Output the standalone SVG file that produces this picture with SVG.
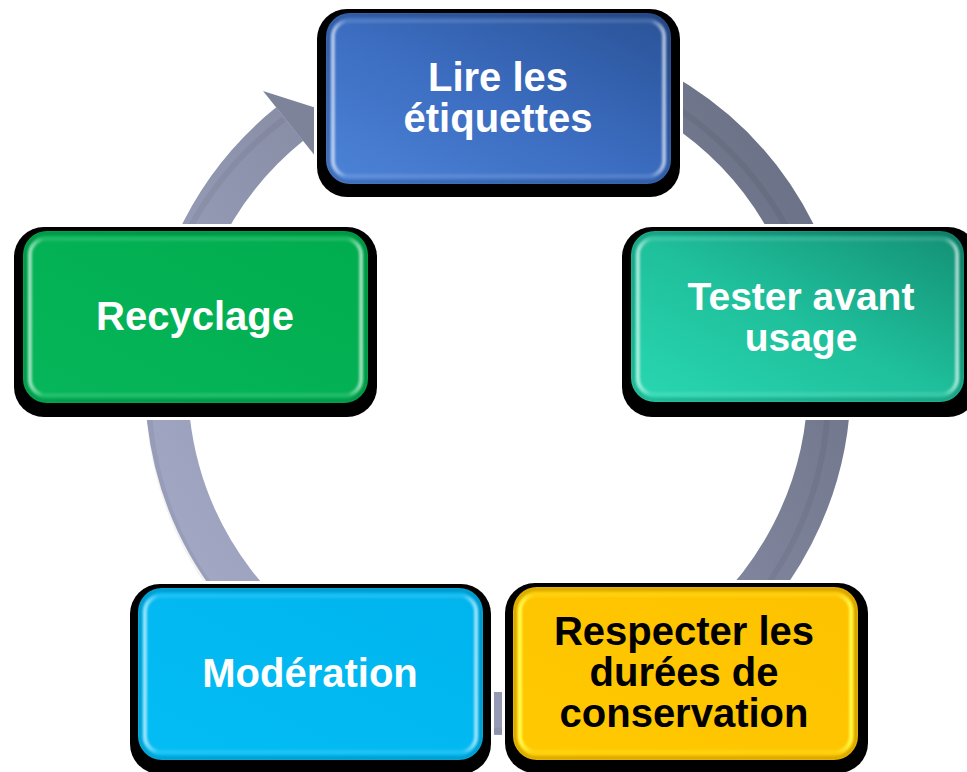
<svg xmlns="http://www.w3.org/2000/svg" width="967" height="772" viewBox="0 0 967 772">
<defs>
  <linearGradient id="ringGrad" gradientUnits="userSpaceOnUse" x1="150" y1="600" x2="850" y2="150">
    <stop offset="0" stop-color="#a6abc9"/>
    <stop offset="0.45" stop-color="#8a8fa8"/>
    <stop offset="1" stop-color="#676d81"/>
  </linearGradient>
  <linearGradient id="gBlue" x1="0" y1="1" x2="1" y2="0">
    <stop offset="0" stop-color="#4d84d8"/>
    <stop offset="0.5" stop-color="#3b6cbf"/>
    <stop offset="1" stop-color="#2a5296"/>
  </linearGradient>
  <linearGradient id="gTeal" x1="0" y1="1" x2="1" y2="0">
    <stop offset="0" stop-color="#28d8b1"/>
    <stop offset="0.5" stop-color="#1fbf9b"/>
    <stop offset="1" stop-color="#138f74"/>
  </linearGradient>
  <linearGradient id="gGreen" x1="0" y1="1" x2="1" y2="0">
    <stop offset="0" stop-color="#06b65a"/>
    <stop offset="1" stop-color="#00ad4e"/>
  </linearGradient>
  <linearGradient id="gCyan" x1="0" y1="1" x2="1" y2="0">
    <stop offset="0" stop-color="#04bdf5"/>
    <stop offset="1" stop-color="#00b4ee"/>
  </linearGradient>
  <linearGradient id="gGold" x1="0" y1="1" x2="1" y2="0">
    <stop offset="0" stop-color="#ffc900"/>
    <stop offset="1" stop-color="#fdc200"/>
  </linearGradient>
  <linearGradient id="gBevel" x1="0" y1="0" x2="1" y2="0">
    <stop offset="0" stop-color="#ffffff" stop-opacity="0.6"/>
    <stop offset="0.04" stop-color="#ffffff" stop-opacity="0.12"/>
    <stop offset="0.96" stop-color="#ffffff" stop-opacity="0.12"/>
    <stop offset="1" stop-color="#ffffff" stop-opacity="0.6"/>
  </linearGradient>
  <linearGradient id="gBevelGold" x1="0" y1="0" x2="1" y2="0">
    <stop offset="0" stop-color="#ffff50" stop-opacity="0.95"/>
    <stop offset="0.04" stop-color="#ffff50" stop-opacity="0.2"/>
    <stop offset="0.96" stop-color="#ffff50" stop-opacity="0.2"/>
    <stop offset="1" stop-color="#ffff50" stop-opacity="0.9"/>
  </linearGradient>
  <filter id="soft" x="-5%" y="-5%" width="110%" height="110%">
    <feGaussianBlur stdDeviation="1.2"/>
  </filter>
</defs>
<style>
  .halo { fill: #ffffff; }
  .shadow { fill: #000000; }
  .bevel { fill: none; stroke: url(#gBevel); stroke-width: 4; filter: url(#soft); }
  .edge { fill: none; stroke: #000000; stroke-opacity: 0.15; stroke-width: 4; filter: url(#soft); }
  .lbl { font-family: "Liberation Sans", Arial, sans-serif; font-weight: bold; font-size: 40px; text-anchor: middle; fill: #ffffff; }
  .dark { fill: #000000; }
</style>
<rect width="967" height="772" fill="#ffffff"/>
<g id="connectors">
  <path d="M 357.9 81.6 A 331.5 331.5 0 1 1 289.7 124.1" fill="none" stroke="url(#ringGrad)" stroke-width="43"/>
  <path d="M 355 78 A 340 340 0 1 1 284 119" fill="none" stroke="#000000" stroke-opacity="0.05" stroke-width="6"/>
  <polygon points="263,91 332,113 316,157" fill="#7d8398"/>
</g>
<g id="node-lire">
  <rect class="halo" x="314" y="6" width="369" height="194" rx="32"/>
  <rect class="shadow" x="317" y="9" width="363" height="188" rx="30"/>
  <rect x="326" y="13" width="345" height="171" rx="24" fill="url(#gBlue)"/>
  <rect class="edge" x="328" y="15" width="341" height="167" rx="22"/>
  <rect class="bevel" x="333" y="21" width="331" height="155" rx="16"/>
  <text class="lbl" x="498" y="91">Lire les</text>
  <text class="lbl" x="498" y="132">étiquettes</text>
</g>
<g id="node-tester">
  <rect class="halo" x="619" y="224" width="360" height="196" rx="32"/>
  <rect class="shadow" x="622" y="227" width="356" height="190" rx="30"/>
  <rect x="631" y="231" width="333" height="171" rx="24" fill="url(#gTeal)"/>
  <rect class="edge" x="633" y="233" width="329" height="167" rx="22"/>
  <rect class="bevel" x="638" y="239" width="319" height="155" rx="16"/>
  <text class="lbl" x="801" y="310" style="font-size:39px">Tester avant</text>
  <text class="lbl" x="801" y="351" style="font-size:39px">usage</text>
</g>
<g id="node-recyclage">
  <rect class="halo" x="11" y="224" width="369" height="196" rx="32"/>
  <rect class="shadow" x="14" y="227" width="363" height="190" rx="30"/>
  <rect x="23" y="231" width="345" height="172" rx="24" fill="url(#gGreen)"/>
  <rect class="edge" x="25" y="233" width="341" height="168" rx="22"/>
  <rect class="bevel" x="30" y="239" width="331" height="156" rx="16"/>
  <text class="lbl" x="195" y="330">Recyclage</text>
</g>
<g id="node-moderation">
  <rect class="halo" x="127" y="581" width="367" height="196" rx="32"/>
  <rect class="shadow" x="130" y="584" width="361" height="190" rx="30"/>
  <rect x="138" y="588" width="345" height="172" rx="24" fill="url(#gCyan)"/>
  <rect class="edge" x="140" y="590" width="341" height="168" rx="22"/>
  <rect class="bevel" x="145" y="596" width="331" height="156" rx="16"/>
  <text class="lbl" x="310" y="687">Modération</text>
</g>
<g id="node-respecter">
  <rect class="halo" x="502" y="580" width="369" height="196" rx="32"/>
  <rect class="shadow" x="505" y="583" width="363" height="190" rx="30"/>
  <rect x="513" y="587" width="345" height="173" rx="24" fill="url(#gGold)"/>
  <rect class="edge" x="515" y="589" width="341" height="169" rx="22"/>
  <rect class="bevel" x="520" y="595" width="331" height="157" rx="16" style="stroke:url(#gBevelGold)"/>
  <text class="lbl dark" x="684" y="645">Respecter les</text>
  <text class="lbl dark" x="684" y="686">durées de</text>
  <text class="lbl dark" x="684" y="727">conservation</text>
</g>
</svg>
